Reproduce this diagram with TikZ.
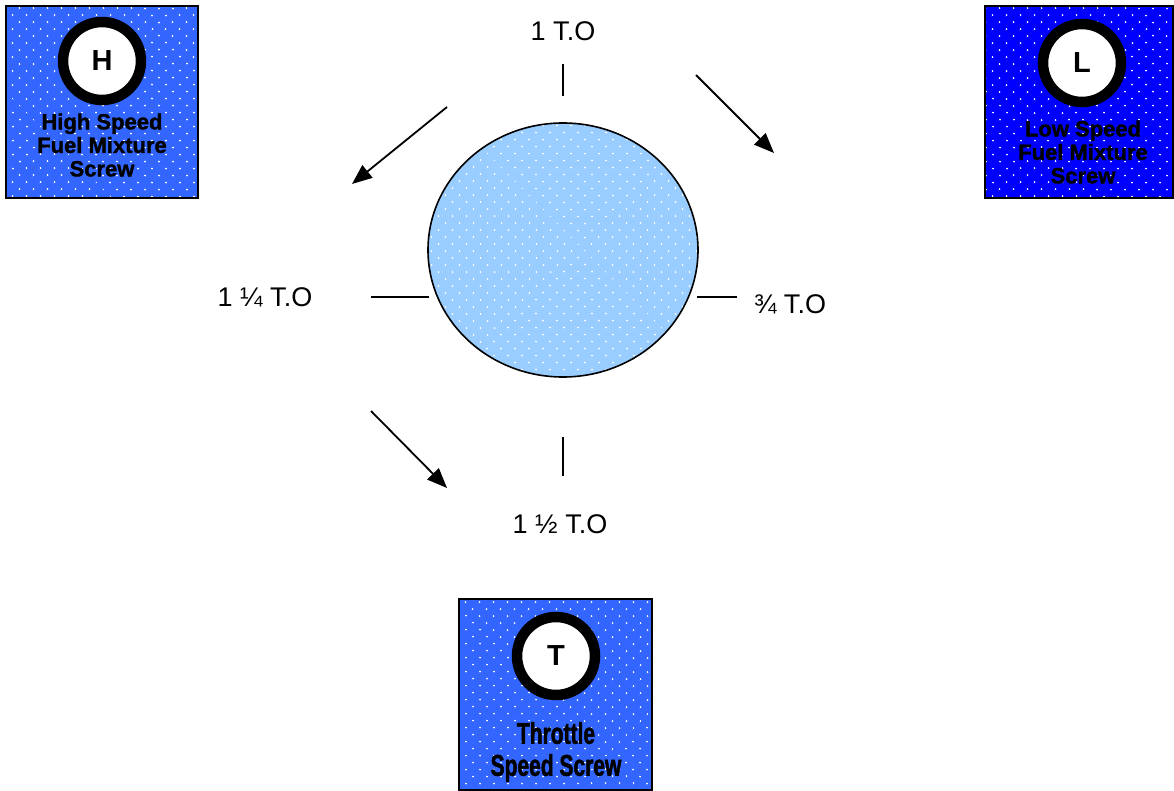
\documentclass[tikz,border=0pt]{standalone}
\usepackage{fontspec}
\setmainfont{Liberation Sans}
\newfontfamily\heavyfont{Liberation Sans}[BoldFeatures={FakeBold=1.5}]
\newfontfamily\narrowfont{Liberation Sans}[FakeStretch=0.7, BoldFeatures={FakeBold=1.5}]
\usetikzlibrary{arrows.meta,patterns.meta,shapes.geometric}
\definecolor{knobblue}{RGB}{51,102,255}
\definecolor{deepblue}{RGB}{0,0,255}
\definecolor{dialblue}{RGB}{153,204,255}
\tikzset{
	dotted fill/.style={preaction={fill=#1}, pattern={Dots[distance=10.5pt, angle=45, radius=1.1pt]}, pattern color=white},
	screwbox/.style={dotted fill=#1, draw=black, line width=1.2pt, inner sep=0pt},
	knob/.style={circle, draw=black, line width=10.5pt, fill=white, minimum size=78pt, inner sep=0pt, font=\bfseries\fontsize{29}{29}\selectfont},
	boxtext/.style={align=center, inner sep=0pt, font=\heavyfont\bfseries\fontsize{22}{23.5}\selectfont},
	turns/.style={inner sep=0pt, font=\fontsize{27}{27}\selectfont},
	pointer/.style={line width=1.8pt, -{Triangle[length=20pt, width=16pt]}}
}
\begin{document}
\begin{tikzpicture}[x=1pt, y=-1pt]
		%%%%% START %%%%%
		\useasboundingbox (0, 0) rectangle (1174, 791);
		
		% high speed screw
		\node[screwbox=knobblue, minimum width=192pt, minimum height=192pt] (hbox) at (102, 102) {};
		\node[knob] (hknob) at (102, 61) {H};
		\node[boxtext] (hlabel) at (102, 145) {High Speed\\Fuel Mixture\\Screw};
		
		% low speed screw
		\node[screwbox=deepblue, minimum width=188pt, minimum height=192pt] (lbox) at (1079, 102) {};
		\node[knob] (lknob) at (1082, 63) {L};
		\node[boxtext] (llabel) at (1083, 152) {Low Speed\\Fuel Mixture\\Screw};
		
		% throttle screw
		\node[screwbox=knobblue, minimum width=193pt, minimum height=191pt] (tbox) at (555.5, 694.5) {};
		\node[knob] (tknob) at (556, 656) {T};
		\node[boxtext, font=\narrowfont\bfseries\fontsize{30}{32}\selectfont] (tlabel) at (556, 752) {Throttle\\Speed Screw};
		
		% dial
		\node[ellipse, draw=black, line width=1.6pt, dotted fill=dialblue, minimum width=270pt, minimum height=254pt] (dial) at (563, 250) {};
		
		\draw[line width=1.5pt] (563, 64) -- (563, 96);
		\draw[line width=1.5pt] (697, 297) -- (737, 297);
		\draw[line width=1.5pt] (371, 297) -- (429, 297);
		\draw[line width=1.5pt] (563, 437) -- (563, 476);
		
		\node[turns] (one) at (563, 31) {1 T.O};
		\node[turns] (threeq) at (790, 304) {¾ T.O};
		\node[turns] (onequ) at (265, 297) {1 ¼ T.O};
		\node[turns] (onehalf) at (560, 524) {1 ½ T.O};
		
		% direction of turning
		\coordinate (nwtail) at (447, 107);
		\coordinate (nwtip) at (352, 184);
		\coordinate (netail) at (696, 75);
		\coordinate (netip) at (774, 153);
		\coordinate (swtail) at (371, 411);
		\coordinate (swtip) at (447, 488);
		\draw[pointer] (nwtail) -- (nwtip);
		\draw[pointer] (netail) -- (netip);
		\draw[pointer] (swtail) -- (swtip);
		
		%%%%% END %%%%%
	\end{tikzpicture}
\end{document}
